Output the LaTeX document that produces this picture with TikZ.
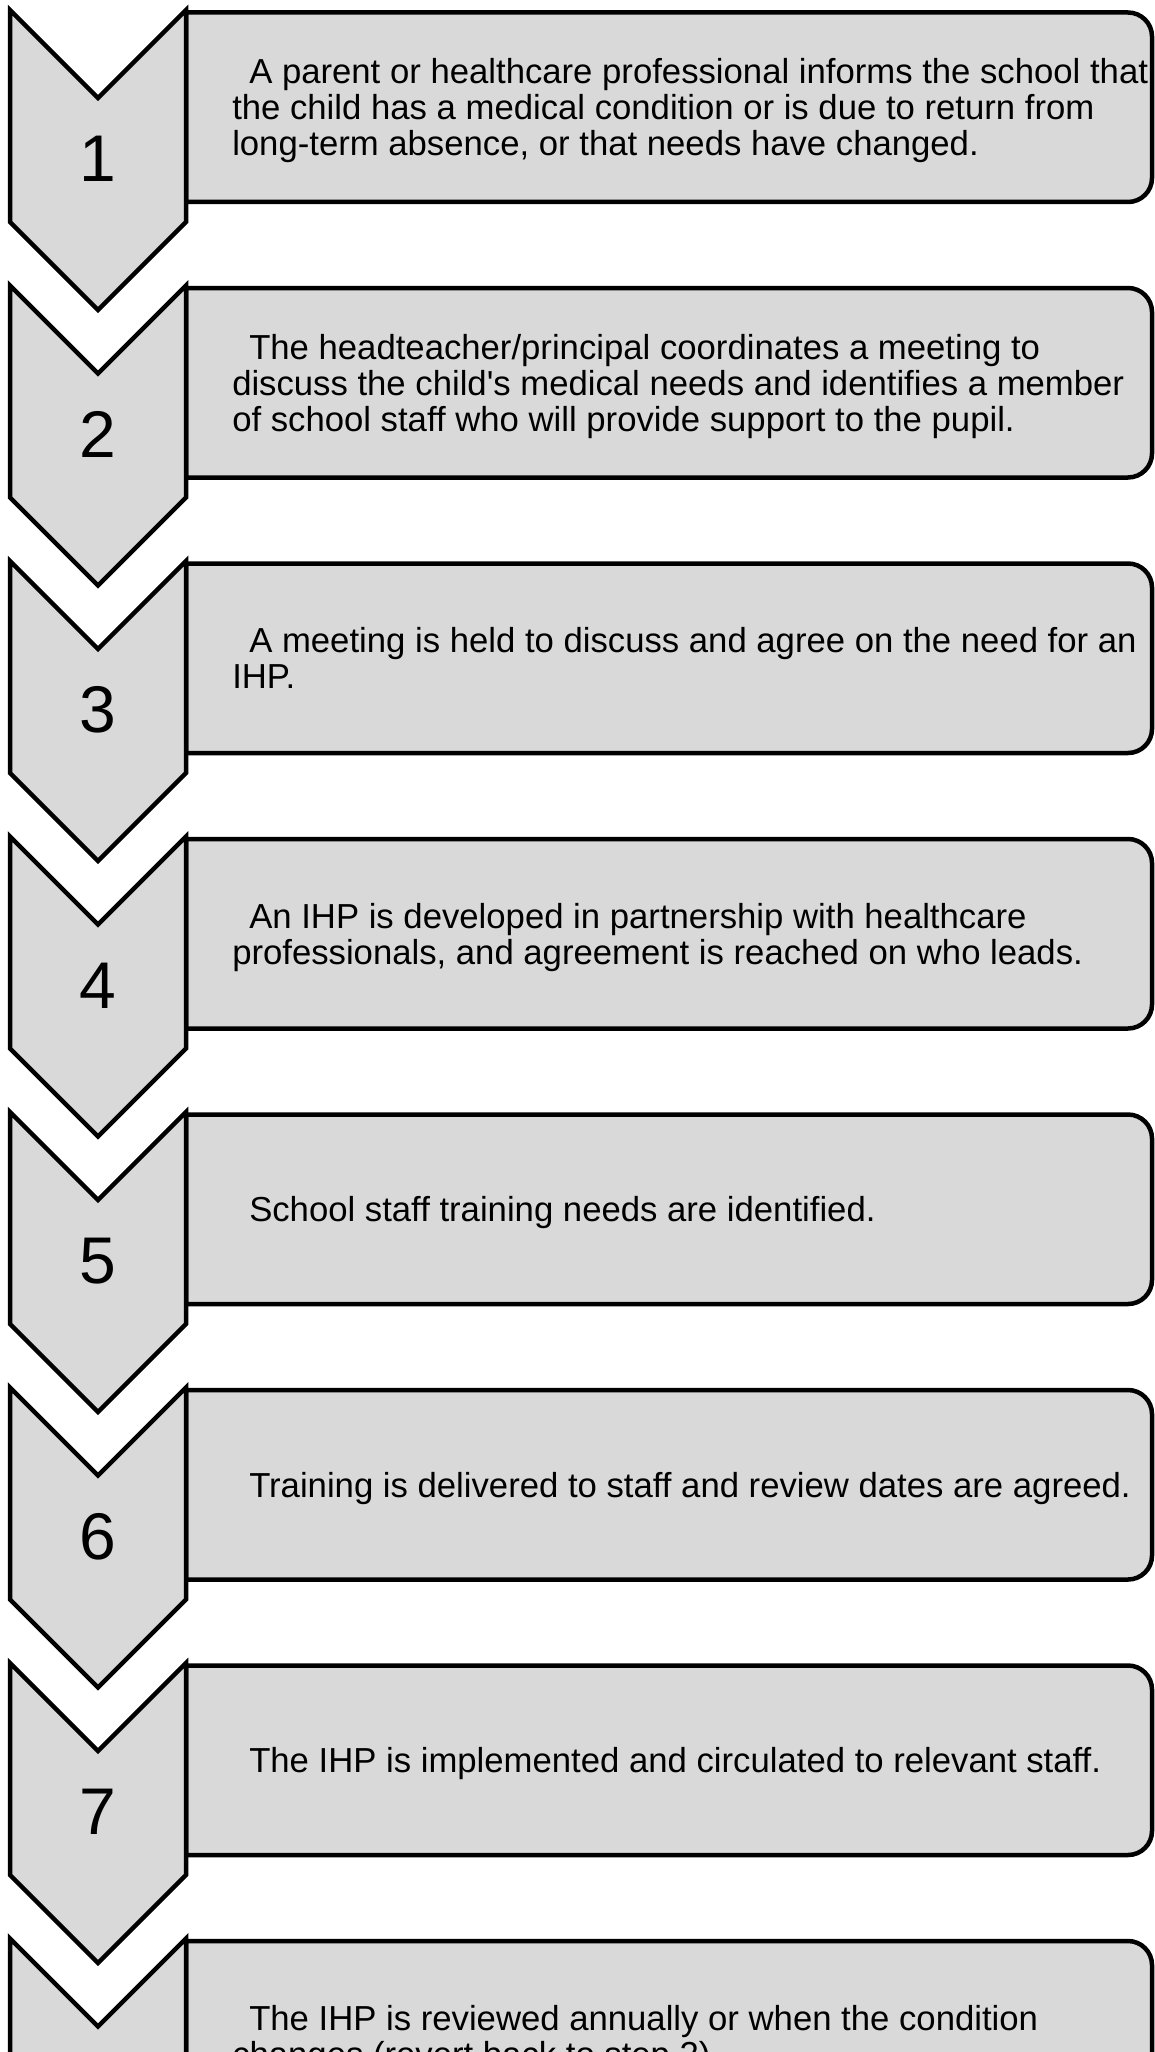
\documentclass[tikz,border=0pt]{standalone}
\usepackage{fontspec}
\setmainfont{Liberation Sans}
\definecolor{boxgray}{HTML}{D9D9D9}
\begin{document}
\begin{tikzpicture}[x=1pt,y=-1pt,line width=4.5pt,
  stepshape/.style={draw=black,fill=boxgray},
  stepnum/.style={inner sep=0pt,font=\fontsize{66}{70}\selectfont},
  steptext/.style={inner sep=0pt,anchor=west,align=left,font=\fontsize{34.7}{36}\selectfont}]
\useasboundingbox (0,0) rectangle (1155,2052);
\clip (0,0) rectangle (1155,2052);
\foreach \k [count=\n] in {0,...,7} {
  \pgfmathsetmacro\oy{275.5*\k}
  \draw[stepshape] (186,12.5+\oy) [rounded corners=24] -- (1152,12.5+\oy) -- (1152,202+\oy) [sharp corners] -- (186,202+\oy) -- cycle;
  \draw[stepshape] (10,10+\oy) -- (98,98+\oy) -- (186,10+\oy) -- (186,222+\oy) -- (98,310+\oy) -- (10,222+\oy) -- cycle;
  \node[stepnum] (n\n) at (98,159+\oy) {\n};
}
\node[steptext] (t1) at (230,112.5) {\strut\hspace*{17pt}A parent or healthcare professional informs the school that\\\strut the child has a medical condition or is due to return from\\\strut long-term absence, or that needs have changed.};
\node[steptext] (t2) at (230,388) {\strut\hspace*{17pt}The headteacher/principal coordinates a meeting to\\\strut discuss the child\textquotesingle s medical needs and identifies a member\\\strut of school staff who will provide support to the pupil.};
\node[steptext] (t3) at (230,663.5) {\strut\hspace*{17pt}A meeting is held to discuss and agree on the need for an\\\strut IHP.};
\node[steptext] (t4) at (230,939) {\strut\hspace*{17pt}An IHP is developed in partnership with healthcare\\\strut professionals, and agreement is reached on who leads.};
\node[steptext] (t5) at (230,1214.5) {\strut\hspace*{17pt}School staff training needs are identified.};
\node[steptext] (t6) at (230,1490) {\strut\hspace*{17pt}Training is delivered to staff and review dates are agreed.};
\node[steptext] (t7) at (230,1765.5) {\strut\hspace*{17pt}The IHP is implemented and circulated to relevant staff.};
\node[steptext] (t8) at (230,2041) {\strut\hspace*{17pt}The IHP is reviewed annually or when the condition\\\strut changes (revert back to step 2).};
\end{tikzpicture}
\end{document}
